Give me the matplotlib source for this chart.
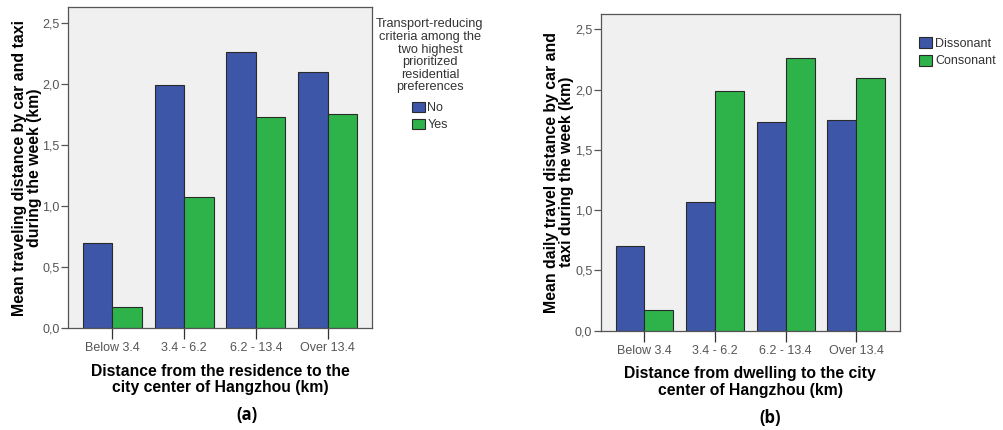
import matplotlib
matplotlib.use("Agg")
import matplotlib.pyplot as plt
import numpy as np

plt.rcParams['font.family'] = ['Liberation Sans', 'DejaVu Sans']

# Distance bands from the city center of Hangzhou
categories = ["Below 3.4", "3.4 - 6.2", "6.2 - 13.4", "Over 13.4"]

# Panel (a): transport-reducing criteria among top residential preferences
no_values = [0.70, 1.99, 2.26, 2.10]
yes_values = [0.17, 1.07, 1.73, 1.75]

# Panel (b): dissonant vs consonant residents
dissonant_values = [0.70, 1.07, 1.73, 1.75]
consonant_values = [0.17, 1.99, 2.26, 2.10]

yticks = [0.0, 0.5, 1.0, 1.5, 2.0, 2.5]
ytick_labels = ["0,0", "0,5", "1,0", "1,5", "2,0", "2,5"]

BLUE = "#3D56A8"
GREEN = "#2DB34A"
EDGE = "#2a2a2a"
BG = "#F0F0F0"
TICK_GRAY = "#555555"

fig = plt.figure(figsize=(10.04, 4.30), dpi=100)
fig.patch.set_facecolor("white")


def draw_panel(ax, first, second, labels, ylabel, xlabel):
    x = np.arange(len(categories))
    w = 0.41
    b1 = ax.bar(x - w / 2, first, width=w, color=BLUE, edgecolor=EDGE,
                linewidth=0.8, label=labels[0], zorder=2)
    b2 = ax.bar(x + w / 2, second, width=w, color=GREEN, edgecolor=EDGE,
                linewidth=0.8, label=labels[1], zorder=2)
    ax.set_facecolor(BG)
    ax.set_xlim(-0.62, 3.62)
    ax.set_ylim(0, 2.63)
    ax.set_yticks(yticks)
    ax.set_yticklabels(ytick_labels)
    ax.set_xticks(x)
    ax.set_xticklabels(categories)
    for s in ax.spines.values():
        s.set_color("#555555")
        s.set_linewidth(0.9)
    ax.tick_params(axis="y", direction="out", length=5, width=0.9,
                   color="#555555", labelcolor=TICK_GRAY, labelsize=9, pad=1)
    ax.tick_params(axis="x", direction="out", length=8, width=0.9,
                   color="#333333", labelcolor=TICK_GRAY, labelsize=9, pad=2)
    ax.set_ylabel(ylabel, fontsize=11.4, fontweight="bold", labelpad=0.5,
                  linespacing=1.0)
    ax.set_xlabel(xlabel, fontsize=11.3, fontweight="bold", labelpad=7,
                  linespacing=1.1)
    return b1, b2


ax_a = fig.add_axes([0.0677, 0.2372, 0.3028, 0.7465])
ha = draw_panel(ax_a, no_values, yes_values, ["No", "Yes"],
                "Mean traveling distance by car and taxi\nduring the week (km)",
                "Distance from the residence to the\ncity center of Hangzhou (km)")
leg_a = ax_a.legend(handles=ha, loc="upper center",
                    bbox_to_anchor=(430 / 1004, 1 - 12 / 430),
                    bbox_transform=fig.transFigure, frameon=False,
                    title="Transport-reducing\ncriteria among the\ntwo highest\nprioritized\nresidential\npreferences",
                    fontsize=9, title_fontsize=9.2, handlelength=1.0,
                    handleheight=0.9, handletextpad=0.2, labelspacing=0.35,
                    borderpad=0.0)
leg_a.get_title().set_multialignment("center")
leg_a.get_title().set_linespacing(1.07)
leg_a.get_title().set_color("#333333")
leg_a._legend_box.sep = 6
for t in leg_a.get_texts():
    t.set_color("#333333")

ax_b = fig.add_axes([0.5983, 0.2309, 0.2981, 0.7372])
hb = draw_panel(ax_b, dissonant_values, consonant_values,
                ["Dissonant", "Consonant"],
                "Mean daily travel distance by car and\ntaxi during the week (km)",
                "Distance from dwelling to the city\ncenter of Hangzhou (km)")
leg_b = ax_b.legend(handles=hb, loc="upper left",
                    bbox_to_anchor=(913 / 1004, 1 - 31 / 430),
                    bbox_transform=fig.transFigure, frameon=False,
                    fontsize=9, handlelength=1.0, handleheight=1.0,
                    handletextpad=0.3, labelspacing=0.35, borderpad=0.0)
for t in leg_b.get_texts():
    t.set_color("#333333")

fig.text(247 / 1004, 1 - 415 / 430, "(a)", ha="center", va="center",
         fontsize=12, fontweight="bold", family=["Open Sans", "DejaVu Sans"])
fig.text(770 / 1004, 1 - 418 / 430, "(b)", ha="center", va="center",
         fontsize=12, fontweight="bold", family=["Open Sans", "DejaVu Sans"])

fig.savefig("out.png", dpi=100, facecolor="white")
